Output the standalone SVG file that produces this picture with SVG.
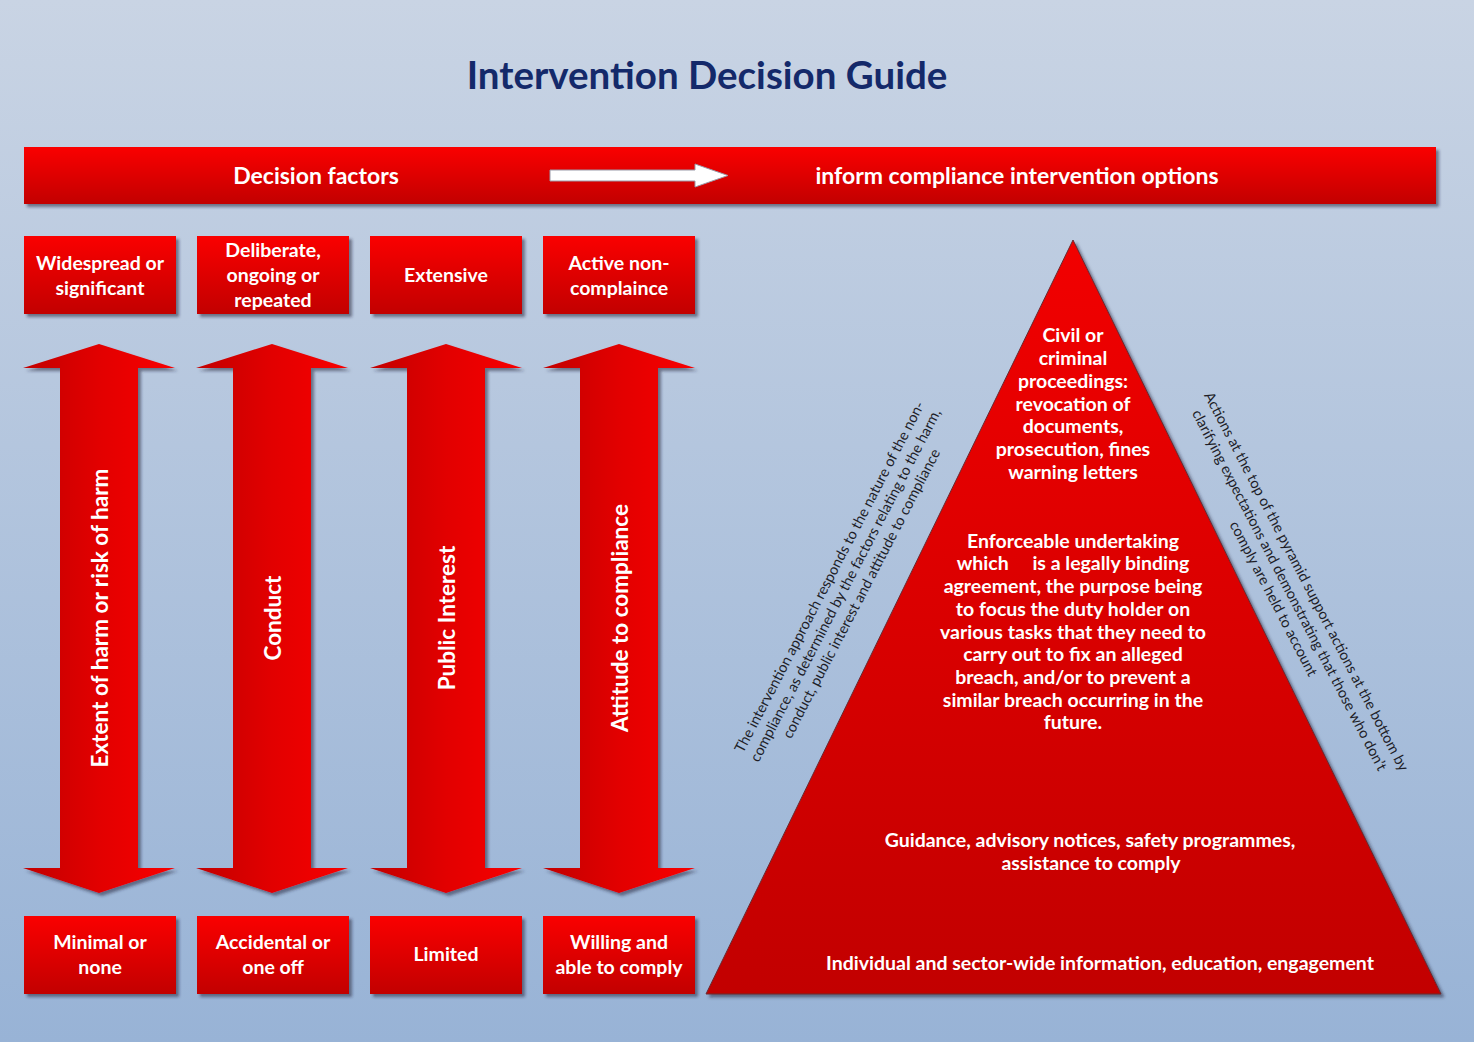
<svg xmlns="http://www.w3.org/2000/svg" width="1474" height="1042" viewBox="0 0 1474 1042">
<defs>
<linearGradient id="bg" x1="0" y1="0" x2="0" y2="1">
<stop offset="0" stop-color="#c9d4e4"/>
<stop offset="1" stop-color="#98b3d6"/>
</linearGradient>
<linearGradient id="redV" x1="0" y1="0" x2="0" y2="1">
<stop offset="0" stop-color="#fa0000"/>
<stop offset="1" stop-color="#c20000"/>
</linearGradient>
<linearGradient id="redH" x1="0" y1="0" x2="1" y2="0">
<stop offset="0" stop-color="#c20000"/>
<stop offset="0.5" stop-color="#e20000"/>
<stop offset="1" stop-color="#f80000"/>
</linearGradient>
<linearGradient id="pyr" x1="0" y1="0" x2="0" y2="1">
<stop offset="0" stop-color="#f20000"/>
<stop offset="1" stop-color="#c20000"/>
</linearGradient>
<filter id="sh" x="-10%" y="-10%" width="130%" height="130%">
<feDropShadow dx="3" dy="3" stdDeviation="1.5" flood-color="#2a2a40" flood-opacity="0.55"/>
</filter>
</defs>
<style>
.t{font-family:Lato,"Liberation Sans",sans-serif;font-weight:bold;fill:#ffffff;text-anchor:middle;dominant-baseline:central}
.box{fill:url(#redV);filter:url(#sh)}
.bt{font-size:19.5px}
.pt{font-size:19.5px}
.vt{font-size:22.5px}
.dg{font-family:Lato,"Liberation Sans",sans-serif;font-size:14.6px;fill:#1e1e28;text-anchor:middle;dominant-baseline:central}
.arr{fill:url(#redH);filter:url(#sh)}
</style>
<rect x="0" y="0" width="1474" height="1042" fill="url(#bg)"/>
<text x="707" y="74" font-family="Lato,'Liberation Sans',sans-serif" font-weight="bold" font-size="38.5" fill="#14296a" text-anchor="middle" dominant-baseline="central">Intervention Decision Guide</text>

<g id="header">
<rect x="24" y="147" width="1412" height="57" class="box"/>
<text class="t" x="316" y="175" font-size="23">Decision factors</text>
<text class="t" x="1017" y="175" font-size="23">inform compliance intervention options</text>
</g>

<g id="connectors">
<path d="M550,170 L695,170 L695,164 L728,175.5 L695,187 L695,181 L550,181 Z" fill="#ffffff" stroke="#9a9aa8" stroke-width="1"/>
</g>

<g id="top-boxes">
<g id="box-widespread"><rect x="24" y="236" width="152" height="78" class="box"/>
<text class="t bt" x="100" y="262">Widespread or</text><text class="t bt" x="100" y="287">significant</text></g>
<g id="box-deliberate"><rect x="197" y="236" width="152" height="78" class="box"/>
<text class="t bt" x="273" y="249">Deliberate,</text><text class="t bt" x="273" y="274">ongoing or</text><text class="t bt" x="273" y="299">repeated</text></g>
<g id="box-extensive"><rect x="370" y="236" width="152" height="78" class="box"/>
<text class="t bt" x="446" y="274">Extensive</text></g>
<g id="box-active"><rect x="543" y="236" width="152" height="78" class="box"/>
<text class="t bt" x="619" y="262">Active non-</text><text class="t bt" x="619" y="287">complaince</text></g>
</g>

<g id="arrows">
<g id="arrow-harm"><path class="arr" d="M99,344 L175,368 L138,368 L138,868 L175,868 L99,893 L23,868 L60,868 L60,368 L23,368 Z"/>
<text class="t vt" transform="translate(99,618) rotate(-90)">Extent of harm or risk of harm</text></g>
<g id="arrow-conduct"><path class="arr" d="M272,344 L348,368 L311,368 L311,868 L348,868 L272,893 L196,868 L233,868 L233,368 L196,368 Z"/>
<text class="t vt" transform="translate(272,618) rotate(-90)">Conduct</text></g>
<g id="arrow-public"><path class="arr" d="M446,344 L522,368 L485,368 L485,868 L522,868 L446,893 L370,868 L407,868 L407,368 L370,368 Z"/>
<text class="t vt" transform="translate(446,618) rotate(-90)">Public Interest</text></g>
<g id="arrow-attitude"><path class="arr" d="M619,344 L695,368 L658,368 L658,868 L695,868 L619,893 L543,868 L580,868 L580,368 L543,368 Z"/>
<text class="t vt" transform="translate(619,618) rotate(-90)">Attitude to compliance</text></g>
</g>

<g id="bottom-boxes">
<g id="box-minimal"><rect x="24" y="916" width="152" height="78" class="box"/>
<text class="t bt" x="100" y="941">Minimal or</text><text class="t bt" x="100" y="966">none</text></g>
<g id="box-accidental"><rect x="197" y="916" width="152" height="78" class="box"/>
<text class="t bt" x="273" y="941">Accidental or</text><text class="t bt" x="273" y="966">one off</text></g>
<g id="box-limited"><rect x="370" y="916" width="152" height="78" class="box"/>
<text class="t bt" x="446" y="953">Limited</text></g>
<g id="box-willing"><rect x="543" y="916" width="152" height="78" class="box"/>
<text class="t bt" x="619" y="941">Willing and</text><text class="t bt" x="619" y="966">able to comply</text></g>
</g>

<g id="pyramid">
<path d="M1073,240 L1441,994 L706,994 Z" fill="url(#pyr)" stroke="#6a2a30" stroke-width="1" filter="url(#sh)"/>
<g id="pyr-top">
<text class="t pt" x="1073" y="334">Civil or</text>
<text class="t pt" x="1073" y="357">criminal</text>
<text class="t pt" x="1073" y="380">proceedings:</text>
<text class="t pt" x="1073" y="403">revocation of</text>
<text class="t pt" x="1073" y="425">documents,</text>
<text class="t pt" x="1073" y="448">prosecution, fines</text>
<text class="t pt" x="1073" y="471">warning letters</text>
</g>
<g id="pyr-middle">
<text class="t pt" x="1073" y="540">Enforceable undertaking</text>
<text class="t pt" x="1073" y="562" xml:space="preserve">which     is a legally binding</text>
<text class="t pt" x="1073" y="585">agreement, the purpose being</text>
<text class="t pt" x="1073" y="608">to focus the duty holder on</text>
<text class="t pt" x="1073" y="631">various tasks that they need to</text>
<text class="t pt" x="1073" y="653">carry out to fix an alleged</text>
<text class="t pt" x="1073" y="676">breach, and/or to prevent a</text>
<text class="t pt" x="1073" y="699">similar breach occurring in the</text>
<text class="t pt" x="1073" y="721">future.</text>
</g>
<g id="pyr-guidance">
<text class="t pt" x="1090" y="839">Guidance, advisory notices, safety programmes,</text>
<text class="t pt" x="1091" y="862">assistance to comply</text>
</g>
<g id="pyr-base">
<text class="t pt" x="1100" y="962">Individual and sector-wide information, education, engagement</text>
</g>
</g>

<g id="note-left" transform="translate(845,585) rotate(-62.5)">
<text class="dg" x="0" y="-18">The intervention approach responds to the nature of the non-</text>
<text class="dg" x="0" y="0">compliance, as determined by the factors relating to the harm,</text>
<text class="dg" x="0" y="18">conduct, public interest and attitude to compliance</text>
</g>
<g id="note-right" transform="translate(1290,590) rotate(62.5)">
<text class="dg" x="0" y="-19">Actions at the top of the pyramid support actions at the bottom by</text>
<text class="dg" x="0" y="0">clarifying expectations and demonstrating that those who don’t</text>
<text class="dg" x="0" y="18">comply are held to account</text>
</g>
</svg>
